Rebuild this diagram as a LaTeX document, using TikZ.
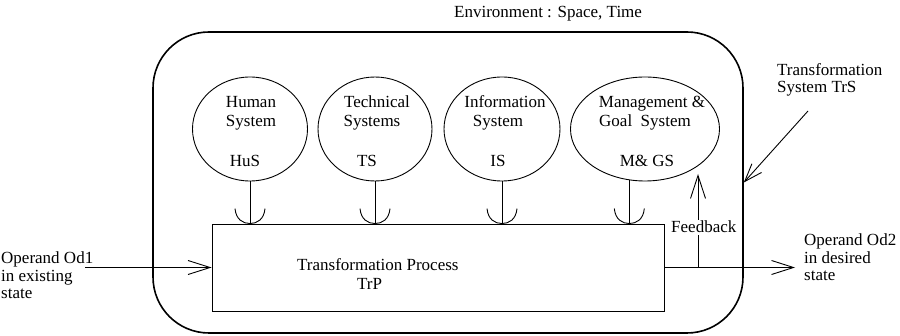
\documentclass[tikz,border=0pt]{standalone}
\usepackage{fontspec}
\setmainfont{Liberation Serif}
\usetikzlibrary{shapes.geometric,arrows.meta,calc}
\begin{document}
\begin{tikzpicture}[x=1pt,y=-1pt,
  every node/.style={font=\fontsize{17}{17.5}\selectfont, inner sep=0pt},
  ln/.style={line width=0.9pt},
  sys/.style={draw, ellipse, line width=0.9pt, minimum height=104pt},
  open/.style={-{Straight Barb[length=22pt,width=14pt]}},
  lbl/.style={anchor=base west, align=left},
  ctr/.style={anchor=base},
  socket/.pic={\draw[line width=0.9pt] (-15,-15) .. controls (-14,-4) and (-7,0) .. (0,0)
                 .. controls (7,0) and (14,-4) .. (15,-15);}
]
\useasboundingbox (0,0) rectangle (900,336);

% transformation system boundary and process box
\node[draw, rounded corners=56pt, line width=1.6pt, minimum width=590pt, minimum height=301pt] (trs) at (448,182.5) {};
\node[draw, ln, minimum width=452pt, minimum height=87pt] (trp) at (438,267.5) {};
\node[anchor=base west] (trptitle) at (297,271) {Transformation Process};
\node[anchor=base west] (trpabbr) at (357,290) {TrP};

% operator systems
\node[sys, minimum width=115pt] (hus) at (250,129) {};
\node[sys, minimum width=114pt] (tech) at (375,129) {};
\node[sys, minimum width=116pt] (info) at (502,129) {};
\node[sys, minimum width=149pt] (mgs) at (645,129) {};

\node[ctr] (husa) at (251,108) {Human};
\node[ctr] (husb) at (251,127) {System};
\node[ctr] (husc) at (245,167) {HuS};
\node[ctr] (tsa) at (377,108) {Technical};
\node[ctr] (tsb) at (372,127) {Systems};
\node[ctr] (tsc) at (367,167) {TS};
\node[ctr] (isa) at (505,108) {Information};
\node[ctr] (isb) at (498,127) {System};
\node[ctr] (isc) at (498,167) {IS};
\node[ctr] (mga) at (652,108) {Management \&};
\node[ctr] (mgb) at (645,127) {Goal~~System};
\node[ctr] (mgc) at (647,167) {M\& GS};

% effects on the process (stem with socket)
\foreach \s in {hus,tech,info} {
  \draw[ln] (\s.south) -- (\s.south |- trp.north);
  \pic at (\s.south |- trp.north) {socket};
}
\draw[ln] (mgs.-107) -- (mgs.-107 |- trp.north);
\pic at (mgs.-107 |- trp.north) {socket};

% operand in and out (labels anchored at the baseline of their last line)
\coordinate (od1) at (85,267.5);
\draw[ln,open] (od1) -- (trp.west);
\node[lbl] (od1lbl) at (1,299) {Operand Od1\\in existing\\state};
\coordinate (od2) at (795,267.5);
\draw[ln,open] (trp.east) -- (od2);
\node[lbl] (od2lbl) at (804,281) {Operand Od2\\in desired\\state};

% feedback
\coordinate (fb) at (698,267.5);
\coordinate (fbtip) at (698,174);
\draw[ln,-{Straight Barb[length=23pt,width=15pt]}] (fb) -- (fbtip);
\node[fill=white, inner sep=1.5pt, anchor=base west] (fblbl) at (669.5,233) {Feedback};

% system label and environment
\coordinate (trsfrom) at (808,111);
\draw[ln,-{Straight Barb[length=18pt,width=13pt]}] (trsfrom) -- (trs.east);
\node[lbl] (trslbl) at (777,93) {Transformation\\System TrS};
\node[anchor=base west] (env) at (454,18) {Environment : Space, Time};
\end{tikzpicture}
\end{document}
